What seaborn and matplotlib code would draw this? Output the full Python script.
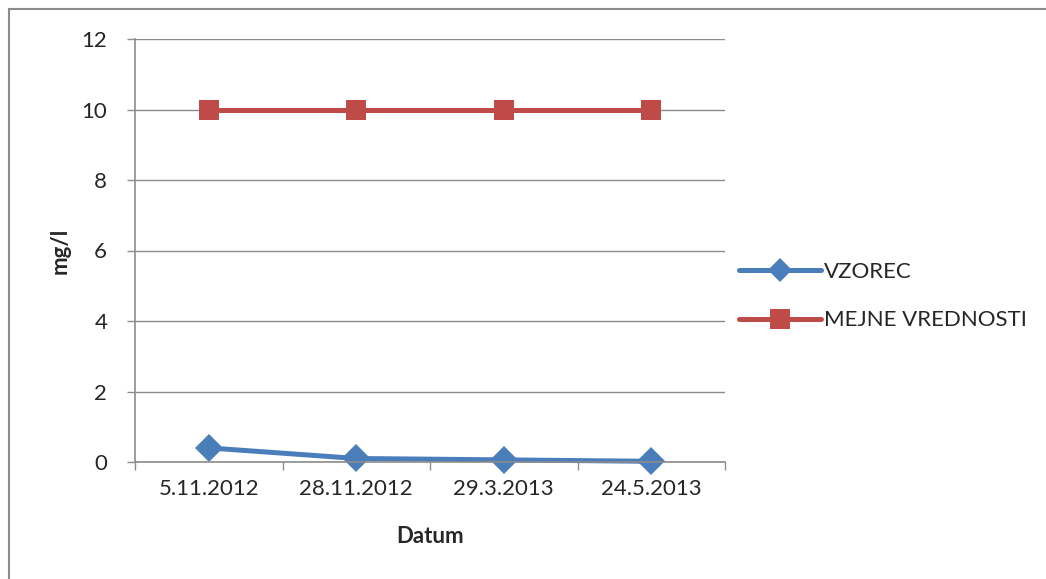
import matplotlib
matplotlib.use("Agg")
import matplotlib.pyplot as plt
from matplotlib.patches import Rectangle
from matplotlib.ticker import FixedLocator, NullFormatter
import seaborn as sns
import pandas as pd

# Measurement dates and values (mg/l)
datumi = ["5.11.2012", "28.11.2012", "29.3.2013", "24.5.2013"]
vzorec = [0.4, 0.1, 0.06, 0.02]
mejne_vrednosti = [10, 10, 10, 10]
serije = ["VZOREC", "MEJNE VREDNOSTI"]
barve = ["#4A7EBB", "#BE4B48"]
markerji = ["D", "s"]

df = pd.DataFrame({
    "Datum": datumi * 2,
    "mg/l": vzorec + mejne_vrednosti,
    "serija": [serije[0]] * len(datumi) + [serije[1]] * len(datumi),
})

sns.set_style("white")
plt.rcParams["font.family"] = ["Lato", "DejaVu Sans"]

fig = plt.figure(figsize=(10.46, 5.79), dpi=100)
ax = fig.add_axes([135 / 1046, 1 - 462 / 579, 590 / 1046, 423 / 579])

sns.lineplot(
    data=df, x="Datum", y="mg/l", hue="serija", style="serija",
    palette=barve, markers=markerji, dashes=False, sort=False,
    linewidth=3.6, markersize=14, markeredgewidth=0, ax=ax, legend=False,
)
for line in ax.lines:
    line.set_clip_on(False)

ax.set_xlim(-0.5, len(datumi) - 0.5)
ax.set_ylim(0, 12)
ax.set_yticks(range(0, 13, 2))
ax.yaxis.grid(True, color="#8c8c8c", linewidth=1)
ax.xaxis.grid(False)
ax.set_axisbelow(True)

for side in ["top", "right"]:
    ax.spines[side].set_visible(False)
for side in ["left", "bottom"]:
    ax.spines[side].set_color("#8c8c8c")
    ax.spines[side].set_linewidth(1.2)

ax.tick_params(axis="y", which="major", length=6, width=1, color="#8c8c8c",
               labelsize=16, pad=14, left=True, direction="out")
ax.tick_params(axis="x", which="major", length=0, labelsize=16, pad=12)
ax.xaxis.set_minor_locator(FixedLocator([i - 0.5 for i in range(len(datumi) + 1)]))
ax.xaxis.set_minor_formatter(NullFormatter())
ax.tick_params(axis="x", which="minor", length=6, width=1, color="#8c8c8c",
               bottom=True, direction="out")

ax.set_xlabel("Datum", fontsize=16, fontweight="bold", labelpad=20)
ax.set_ylabel("mg/l", fontsize=16, fontweight="bold", labelpad=8)

handles = [
    plt.Line2D([], [], color=barve[0], marker=markerji[0], linewidth=3.6,
               markersize=12, markeredgewidth=0),
    plt.Line2D([], [], color=barve[1], marker=markerji[1], linewidth=3.6,
               markersize=14, markeredgewidth=0),
]
fig.legend(handles, serije, loc="center left",
           bbox_to_anchor=(719 / 1046, 1 - 296 / 579), frameon=False,
           fontsize=16, handlelength=3.7, handletextpad=0.12,
           labelspacing=1.3)

# Chart border
fig.patches.append(Rectangle((9 / 1046, -0.05), 1.1, 1 - 9 / 579 + 0.05,
                             transform=fig.transFigure, fill=False,
                             edgecolor="#8c8c8c", linewidth=1.5))

fig.savefig("out.png", dpi=100, facecolor="white")
